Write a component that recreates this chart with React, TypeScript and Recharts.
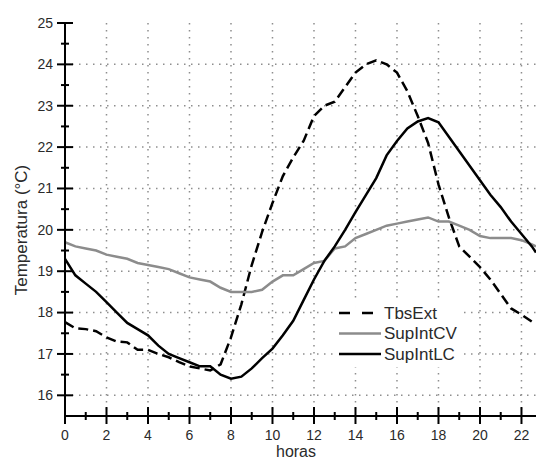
import React from 'react';
import { LineChart, Line, XAxis, YAxis, CartesianGrid, Legend, Label } from 'recharts';

// Hourly temperature profiles (sampled every half hour)
const hours = [
  0, 0.5, 1, 1.5, 2, 2.5, 3, 3.5, 4, 4.5, 5, 5.5, 6, 6.5, 7, 7.5, 8, 8.5, 9, 9.5, 10, 10.5,
  11, 11.5, 12, 12.5, 13, 13.5, 14, 14.5, 15, 15.5, 16, 16.5, 17, 17.5, 18, 18.5, 19, 19.5,
  20, 20.5, 21, 21.5, 22, 22.5, 22.7,
];

const tbsExt = [
  17.77, 17.62, 17.6, 17.55, 17.4, 17.3, 17.28, 17.1, 17.1, 17.0, 16.92, 16.8, 16.7, 16.65,
  16.6, 16.75, 17.4, 18.2, 19.15, 19.95, 20.65, 21.3, 21.75, 22.15, 22.75, 23.0, 23.1, 23.45,
  23.8, 24.0, 24.1, 24.0, 23.8, 23.35, 22.75, 22.1, 21.1, 20.3, 19.6, 19.35, 19.1, 18.8,
  18.45, 18.1, 17.95, 17.78, 17.72,
];

const supIntCV = [
  19.7, 19.6, 19.55, 19.5, 19.4, 19.35, 19.3, 19.2, 19.15, 19.1, 19.05, 18.95, 18.85, 18.8,
  18.75, 18.6, 18.5, 18.5, 18.5, 18.55, 18.75, 18.9, 18.9, 19.05, 19.2, 19.25, 19.55, 19.6,
  19.8, 19.9, 20.0, 20.1, 20.15, 20.2, 20.25, 20.3, 20.2, 20.2, 20.1, 20.0, 19.85, 19.8,
  19.8, 19.8, 19.75, 19.65, 19.6,
];

const supIntLC = [
  19.3, 18.9, 18.7, 18.5, 18.25, 18.0, 17.75, 17.6, 17.45, 17.2, 17.0, 16.9, 16.8, 16.7,
  16.7, 16.5, 16.4, 16.45, 16.65, 16.9, 17.13, 17.45, 17.8, 18.3, 18.8, 19.25, 19.6, 20.0,
  20.43, 20.84, 21.25, 21.8, 22.15, 22.45, 22.62, 22.7, 22.6, 22.25, 21.9, 21.55, 21.2,
  20.85, 20.55, 20.2, 19.9, 19.6, 19.45,
];

const xTicks = [0, 1, 2, 3, 4, 5, 6, 7, 8, 9, 10, 11, 12, 13, 14, 15, 16, 17, 18, 19, 20, 21, 22];
const yTicks = [16, 16.5, 17, 17.5, 18, 18.5, 19, 19.5, 20, 20.5, 21, 21.5, 22, 22.5, 23, 23.5, 24, 24.5, 25];
const xGrid = [2, 4, 6, 8, 10, 12, 14, 16, 18, 20, 22];
const yGrid = [16, 17, 18, 19, 20, 21, 22, 23, 24];

const data = hours.map((h, i) => ({
  hora: h,
  TbsExt: tbsExt[i],
  SupIntCV: supIntCV[i],
  SupIntLC: supIntLC[i],
}));

const FONT = '"Liberation Sans", Arial, sans-serif';
const TEXT = '#2a2a2a';

const series = [
  { key: 'TbsExt', color: '#000', dash: '10 5', legendDash: '11 12' },
  { key: 'SupIntCV', color: '#8c8c8c', dash: undefined, legendDash: undefined },
  { key: 'SupIntLC', color: '#000', dash: undefined, legendDash: undefined },
];

// ticks cross the axis line; odd hours / half degrees are unlabeled minor ticks
const XTick = (props: any) => {
  const { x, y, payload } = props;
  const major = payload.value % 2 === 0;
  return (
    <g>
      <line x1={x} x2={x} y1={y - (major ? 9 : 4)} y2={y + (major ? 8 : 4)} stroke="#000" strokeWidth={2} />
      {major && (
        <text x={x} y={y + 24} textAnchor="middle" fontSize={14} fontFamily={FONT} fill={TEXT}>
          {payload.value}
        </text>
      )}
    </g>
  );
};

const YTick = (props: any) => {
  const { x, y, payload } = props;
  const major = Number.isInteger(payload.value);
  return (
    <g>
      <line x1={x - (major ? 8 : 4)} x2={x + (major ? 8 : 4)} y1={y} y2={y} stroke="#000" strokeWidth={2} />
      {major && (
        <text x={x - 12} y={y} dy="0.35em" textAnchor="end" fontSize={14} fontFamily={FONT} fill={TEXT}>
          {payload.value}
        </text>
      )}
    </g>
  );
};

const LegendBox = () => (
  <svg width={129} height={67} style={{ display: 'block', background: '#fff' }}>
    {series.map((s, i) => {
      const cy = 13 + i * 20.5;
      return (
        <g key={s.key}>
          <line x1={5} x2={47} y1={cy} y2={cy} stroke={s.color} strokeWidth={2.5} strokeDasharray={s.legendDash} />
          <text x={50} y={cy} dy="0.35em" fontSize={17} fontFamily={FONT} fill={TEXT}>
            {s.key}
          </text>
        </g>
      );
    })}
  </svg>
);

export default function App() {
  return (
    <div style={{ position: 'absolute', left: 0, top: 0, width: 536, height: 462, background: '#fff' }}>
      <LineChart width={536} height={462} data={data} margin={{ top: 23, right: 0, bottom: 0, left: 8 }}>
        <CartesianGrid
          stroke="#8e8e8e"
          strokeWidth={1.5}
          strokeDasharray="1.5 5.5"
          verticalValues={xGrid}
          horizontalValues={yGrid}
        />
        <XAxis
          dataKey="hora"
          type="number"
          domain={[0, 22.7]}
          ticks={xTicks}
          interval={0}
          height={46}
          tickSize={0}
          tickMargin={0}
          tickLine={false}
          axisLine={{ stroke: '#000', strokeWidth: 2 }}
          tick={<XTick />}
        >
          <Label
            content={() => (
              <text x={296} y={457} textAnchor="middle" fontSize={16} fontFamily={FONT} fill={TEXT}>
                horas
              </text>
            )}
          />
        </XAxis>
        <YAxis
          type="number"
          domain={[15.5, 25]}
          ticks={yTicks}
          interval={0}
          width={57}
          tickSize={0}
          tickMargin={0}
          tickLine={false}
          axisLine={{ stroke: '#000', strokeWidth: 2 }}
          tick={<YTick />}
        >
          <Label
            content={() => (
              <text
                x={27}
                y={230}
                transform="rotate(-90 27 230)"
                textAnchor="middle"
                fontSize={17}
                fontFamily={FONT}
                fill={TEXT}
              >
                Temperatura (°C)
              </text>
            )}
          />
        </YAxis>
        <Legend
          layout="horizontal"
          verticalAlign="middle"
          align="center"
          content={<LegendBox />}
          wrapperStyle={{ left: 334, top: 300, width: 129, height: 67 }}
        />
        {series.map((s) => (
          <Line
            key={s.key}
            dataKey={s.key}
            type="linear"
            stroke={s.color}
            strokeWidth={2.5}
            strokeDasharray={s.dash}
            dot={false}
            activeDot={false}
            isAnimationActive={false}
          />
        ))}
      </LineChart>
    </div>
  );
}
